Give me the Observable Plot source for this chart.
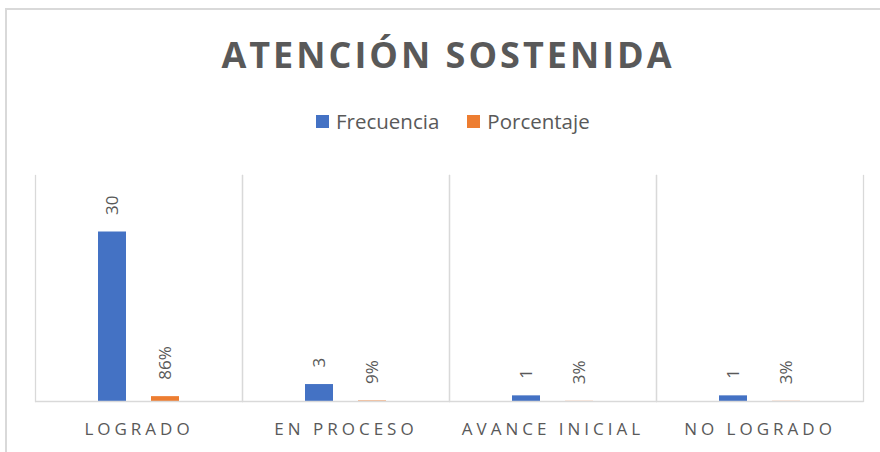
<!DOCTYPE html>
<html>
<head>
<meta charset="utf-8">
<script src="https://cdn.jsdelivr.net/npm/d3@7"></script>
<script src="https://cdn.jsdelivr.net/npm/@observablehq/plot@0.6"></script>
<style>
  html, body { margin: 0; padding: 0; background: #fff; overflow: hidden; }
  #wrap { position: relative; width: 880px; height: 452px; overflow: hidden; font-family: "Open Sans", sans-serif; }
  #border { position: absolute; left: 5px; top: 8px; width: 1000px; height: 1000px; border: 2px solid #d9d9d9; box-sizing: border-box; }
  #title { position: absolute; left: 0; top: 37px; width: 896px; text-align: center; font-size: 36px; line-height: 36px; font-weight: 700; letter-spacing: 3px; color: #595959; }
  #legend { position: absolute; left: 316px; top: 111px; display: flex; align-items: flex-start; font-size: 20.5px; line-height: 20px; color: #595959; }
  #legend .item { display: flex; align-items: flex-start; }
  #legend .sw { width: 13px; height: 13px; margin-top: 4px; margin-right: 7px; }
  #chart { position: absolute; left: 0; top: 150px; }
  #chart svg [aria-label="fx-axis tick label"] { font-size: 17px; }
  #chart svg [aria-label="fx-axis tick label"] text { letter-spacing: 4px; }
</style>
</head>
<body>
<div id="wrap">
  <div id="border"></div>
  <div id="title">ATENCIÓN SOSTENIDA</div>
  <div id="legend"></div>
  <div id="chart"></div>
</div>
<script>
const categories = ["LOGRADO", "EN PROCESO", "AVANCE INICIAL", "NO LOGRADO"];
const series = ["Frecuencia", "Porcentaje"];
const frecuencia = [30, 3, 1, 1];
const porcentaje = [0.86, 0.09, 0.03, 0.03];
const colors = ["#4472C4", "#ED7D31"];

const rows = [];
categories.forEach((c, i) => {
  rows.push({cat: c, serie: series[0], value: frecuencia[i], label: String(frecuencia[i])});
  rows.push({cat: c, serie: series[1], value: porcentaje[i], label: Math.round(porcentaje[i] * 100) + "%"});
});

// legend
const legend = document.getElementById("legend");
series.forEach((s, i) => {
  const item = document.createElement("div");
  item.className = "item";
  if (i > 0) item.style.marginLeft = "28px";
  const sw = document.createElement("div");
  sw.className = "sw";
  sw.style.background = colors[i];
  const t = document.createElement("span");
  t.textContent = s;
  item.appendChild(sw);
  item.appendChild(t);
  legend.appendChild(item);
});

const chart = Plot.plot({
  width: 880,
  height: 302,
  marginTop: 25,
  marginBottom: 51,
  marginLeft: 35,
  marginRight: 17,
  style: {fontFamily: "Open Sans, sans-serif", color: "#595959", background: "transparent"},
  fx: {domain: categories, padding: 0, label: null, axis: "bottom", tickSize: 0, tickPadding: 21},
  x: {domain: series, axis: null, paddingInner: 0.48, paddingOuter: 1.157},
  y: {domain: [0, 40], axis: null},
  color: {domain: series, range: colors},
  marks: [
    Plot.frame({anchor: "left", stroke: "#d9d9d9", strokeWidth: 1.3}),
    Plot.frame({anchor: "right", stroke: "#d9d9d9", strokeWidth: 1.3}),
    Plot.barY(rows, {fx: "cat", x: "serie", y: "value", fill: "serie"}),
    Plot.ruleY([0], {stroke: "#d9d9d9", strokeWidth: 1.3}),
    Plot.text(rows, {fx: "cat", x: "serie", y: "value", text: "label", rotate: -90, textAnchor: "start", dy: -17, fill: "#595959", fontSize: 17})
  ]
});
document.getElementById("chart").appendChild(chart);
</script>
</body>
</html>
